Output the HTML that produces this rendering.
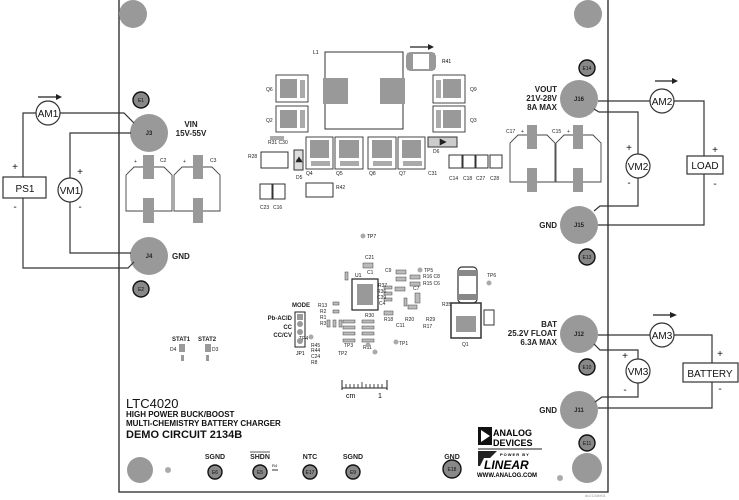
<!DOCTYPE html>
<html><head><meta charset="utf-8"><style>
html,body{margin:0;padding:0;background:#fff;}
svg{display:block;font-family:"Liberation Sans",sans-serif;}
.b{font-weight:bold;}
</style></head><body>
<svg width="739" height="500" viewBox="0 0 739 500" xmlns="http://www.w3.org/2000/svg">
<rect width="739" height="500" fill="#fff"/>
<path d="M119 0 V492 H608 V0" fill="none" stroke="#222" stroke-width="1.3"/>
<circle cx="133" cy="14" r="14" fill="#999"/>
<circle cx="588" cy="14" r="14" fill="#999"/>
<circle cx="140" cy="470" r="13" fill="#999"/>
<circle cx="587" cy="468" r="15" fill="#999"/>
<circle cx="168" cy="470" r="3" fill="#aaa"/>
<circle cx="560" cy="478" r="3" fill="#aaa"/>

<g fill="#999">
<circle cx="149" cy="133" r="19"/><circle cx="149" cy="256" r="19"/>
<circle cx="579" cy="99" r="19"/><circle cx="579" cy="225" r="19"/>
<circle cx="579" cy="334" r="19"/><circle cx="579" cy="410" r="19"/>
</g>
<g font-size="6" class="b" text-anchor="middle" fill="#222">
<text x="149" y="135">J3</text><text x="149" y="258">J4</text>
<text x="579" y="101">J16</text><text x="579" y="227">J15</text>
<text x="579" y="336">J12</text><text x="579" y="412">J11</text>
</g>
<g fill="#888" stroke="#111" stroke-width="1.4">
<circle cx="141" cy="100" r="8"/><circle cx="141" cy="289" r="8"/>
<circle cx="587" cy="68" r="8"/><circle cx="587" cy="257" r="8"/>
<circle cx="587" cy="367" r="8"/><circle cx="587" cy="443" r="8"/>
<circle cx="215" cy="472" r="7"/><circle cx="260" cy="472" r="7"/>
<circle cx="310" cy="472" r="7"/><circle cx="353" cy="472" r="7"/>
<circle cx="452" cy="469" r="9"/>
</g>
<g font-size="5" text-anchor="middle" fill="#111">
<text x="141" y="102">E1</text><text x="141" y="291">E2</text>
<text x="587" y="70">E14</text><text x="587" y="259">E13</text>
<text x="587" y="369">E10</text><text x="587" y="445">E11</text>
<text x="215" y="474">E6</text><text x="260" y="474">E5</text>
<text x="310" y="474">E17</text><text x="353" y="474">E9</text>
<text x="452" y="471">E18</text>
</g>
<g font-size="8" class="b" fill="#222">
<text x="191" y="127" text-anchor="middle">VIN</text>
<text x="191" y="136" text-anchor="middle">15V-55V</text>
<text x="172" y="259">GND</text>
<g text-anchor="end">
<text x="557" y="92">VOUT</text><text x="557" y="101">21V-28V</text><text x="557" y="110">8A MAX</text>
<text x="557" y="228">GND</text>
<text x="557" y="327">BAT</text><text x="557" y="336">25.2V FLOAT</text><text x="557" y="345">6.3A MAX</text>
<text x="557" y="413">GND</text>
</g>
</g>

<g fill="none" stroke="#444" stroke-width="0.9">
<path d="M126 211 V175 L134 167 H164 L172 175 V211 Z"/>
<path d="M174 211 V175 L182 167 H212 L220 175 V211 Z"/>
<path d="M510 182 V143 L518 135 H547 L555 143 V182 Z"/>
<path d="M556 182 V143 L564 135 H593 L601 143 V182 Z"/>
</g>
<g fill="#999">
<rect x="143" y="155" width="11" height="24"/><rect x="143" y="198" width="11" height="25"/>
<rect x="193" y="155" width="10" height="24"/><rect x="193" y="198" width="10" height="25"/>
<rect x="527" y="125" width="10" height="24"/><rect x="527" y="168" width="10" height="24"/>
<rect x="573" y="125" width="10" height="24"/><rect x="573" y="168" width="10" height="24"/>
</g>
<g font-size="5" fill="#222">
<text x="134" y="163">+</text><text x="160" y="162">C2</text>
<text x="183" y="163">+</text><text x="210" y="162">C3</text>
<text x="506" y="133">C17</text><text x="521" y="133">+</text>
<text x="552" y="133">C15</text><text x="567" y="133">+</text>
</g>

<rect x="325" y="52" width="78" height="77" fill="none" stroke="#333" stroke-width="1"/>
<rect x="323" y="78" width="25" height="26" fill="#999"/>
<rect x="380" y="78" width="25" height="26" fill="#999"/>
<text x="313" y="54" font-size="5">L1</text>
<rect x="407" y="53" width="28" height="17" rx="3" fill="none" stroke="#333"/>
<rect x="407" y="53" width="6" height="17" fill="#999"/><rect x="429" y="53" width="6" height="17" fill="#999"/>
<path d="M410 47 H430" stroke="#222" stroke-width="1.3"/><path d="M428 44 L434 47 L428 50 Z" fill="#222"/>
<text x="442" y="63" font-size="5">R41</text>
<g fill="none" stroke="#333" stroke-width="0.9">
<rect x="276" y="75" width="32" height="27"/><rect x="276" y="106" width="32" height="26"/>
<rect x="433" y="75" width="32" height="28"/><rect x="433" y="106" width="32" height="26"/>
<rect x="306" y="137" width="27" height="32"/><rect x="335" y="137" width="28" height="32"/>
<rect x="368" y="137" width="28" height="32"/><rect x="398" y="137" width="27" height="32"/>
</g>
<g fill="#999">
<rect x="280" y="79" width="17" height="19"/><rect x="280" y="110" width="17" height="18"/>
<rect x="443" y="79" width="18" height="19"/><rect x="443" y="110" width="18" height="18"/>
<rect x="310" y="140" width="19" height="18"/><rect x="339" y="140" width="20" height="18"/>
<rect x="372" y="140" width="20" height="18"/><rect x="402" y="140" width="19" height="18"/>
</g>
<g fill="#aaa">
<rect x="300" y="80" width="5" height="18"/><rect x="300" y="110" width="5" height="18"/>
<rect x="436" y="80" width="5" height="18"/><rect x="436" y="110" width="5" height="18"/>
<rect x="311" y="161" width="19" height="5"/><rect x="340" y="161" width="19" height="5"/>
<rect x="373" y="161" width="19" height="5"/><rect x="403" y="161" width="19" height="5"/>
</g>
<g font-size="5" fill="#222">
<text x="266" y="91">Q6</text><text x="266" y="122">Q2</text>
<text x="470" y="91">Q9</text><text x="470" y="122">Q3</text>
<text x="306" y="175">Q4</text><text x="336" y="175">Q5</text><text x="369" y="175">Q8</text><text x="399" y="175">Q7</text>
<text x="248" y="158">R28</text><text x="296" y="179">D5</text><text x="433" y="153">D6</text>
<text x="268" y="144">R31 C30</text><text x="336" y="189">R42</text>
<text x="260" y="209">C23</text><text x="273" y="209">C16</text>
<text x="449" y="180">C14</text><text x="463" y="180">C18</text><text x="476" y="180">C27</text><text x="490" y="180">C28</text>
<text x="428" y="175">C31</text>
</g>
<g fill="none" stroke="#333" stroke-width="1">
<rect x="261" y="152" width="27" height="16"/>
<rect x="306" y="183" width="27" height="14"/>
<rect x="260" y="184" width="12" height="15"/><rect x="273" y="184" width="12" height="15"/>
<rect x="449" y="155" width="13" height="13"/><rect x="463" y="155" width="12" height="13"/>
<rect x="476" y="155" width="12" height="13"/><rect x="490" y="155" width="12" height="13"/>
<rect x="428" y="137" width="29" height="10" fill="#ccc"/>
<rect x="294" y="150" width="9" height="20" fill="#ddd"/>
</g>
<rect x="270" y="136" width="14" height="4" fill="#aaa"/>
<path d="M296 160 h6 M299 157 l-3 5 h6 z M440 139 l6 3 l-6 3 z" fill="#222" stroke="#222" stroke-width="0.6"/>

<circle cx="363" cy="236" r="2.5" fill="#aaa"/><text x="367" y="238" font-size="5">TP7</text>
<rect x="352" y="279" width="26" height="31" fill="none" stroke="#222" stroke-width="1.2"/>
<rect x="357" y="284" width="16" height="21" fill="#999"/>
<text x="355" y="277" font-size="5">U1</text>
<g fill="#bbb" stroke="#444" stroke-width="0.5">
<rect x="363" y="263" width="10" height="5"/><rect x="396" y="270" width="10" height="4"/><rect x="396" y="277" width="10" height="4"/>
<rect x="410" y="275" width="10" height="4"/><rect x="410" y="282" width="10" height="4"/><rect x="395" y="287" width="10" height="4"/>
<rect x="384" y="286" width="8" height="3"/><rect x="384" y="292" width="8" height="3"/><rect x="384" y="298" width="8" height="3"/>
<rect x="384" y="311" width="9" height="4"/><rect x="408" y="305" width="9" height="4"/>
<rect x="343" y="320" width="12" height="3"/><rect x="343" y="326" width="12" height="3"/><rect x="343" y="332" width="12" height="3"/>
<rect x="362" y="320" width="12" height="3"/><rect x="362" y="326" width="12" height="3"/><rect x="362" y="332" width="12" height="3"/>
<rect x="343" y="339" width="12" height="3"/><rect x="362" y="339" width="12" height="3"/>
<rect x="333" y="320" width="3" height="7"/><rect x="327" y="320" width="3" height="7"/><rect x="339" y="320" width="3" height="7"/>
<rect x="333" y="302" width="6" height="3"/><rect x="333" y="310" width="6" height="3"/>
<rect x="345" y="272" width="3" height="8"/><rect x="404" y="298" width="3" height="8"/>
<rect x="415" y="293" width="5" height="10"/>
</g>
<g font-size="5" fill="#222">
<text x="365" y="259">C21</text><text x="367" y="274">C1</text><text x="385" y="272">C9</text>
<text x="378" y="287">R37</text><text x="377" y="293">R36</text><text x="377" y="299">C39</text><text x="379" y="305">C4</text>
<text x="423" y="278">R16 C8</text><text x="423" y="285">R15 C6</text><text x="413" y="290">C7</text>
<text x="365" y="317">R30</text><text x="384" y="321">R18</text><text x="405" y="321">R20</text><text x="426" y="321">R29</text>
<text x="396" y="327">C11</text><text x="423" y="328">R17</text>
<text x="318" y="307">R13</text><text x="320" y="313">R2</text><text x="320" y="319">R1</text><text x="320" y="325">R3</text>
<text x="344" y="347">TP3</text><text x="338" y="355">TP2</text><text x="363" y="349">R11</text>
<text x="299" y="340">TP4</text><text x="399" y="345">TP1</text>
<text x="424" y="272">TP5</text><text x="487" y="277">TP6</text>
<text x="442" y="306">R35</text><text x="462" y="346">Q1</text>
<text x="311" y="347">R45</text><text x="311" y="352">R44</text><text x="311" y="358">C24</text><text x="311" y="364">R8</text>
</g>
<g fill="#aaa">
<circle cx="420" cy="270" r="2.5"/><circle cx="489" cy="283" r="2.5"/><circle cx="311" cy="337" r="2.5"/>
<circle cx="396" cy="342" r="2.5"/><circle cx="368" cy="345" r="2.5"/><circle cx="375" cy="352" r="2.5"/>
</g>
<rect x="458" y="267" width="19" height="36" rx="4" fill="#fff" stroke="#333" stroke-width="1.2"/>
<rect x="458" y="270" width="19" height="6" fill="#888"/><rect x="458" y="294" width="19" height="6" fill="#888"/>
<rect x="451" y="303" width="30" height="35" fill="none" stroke="#333" stroke-width="1.5"/>
<rect x="456" y="316" width="20" height="16" fill="#999"/>
<rect x="484" y="310" width="10" height="15" fill="none" stroke="#333"/>
<rect x="295" y="312" width="10" height="35" fill="none" stroke="#222" stroke-width="1"/>
<rect x="297" y="314" width="6" height="6" fill="#999"/>
<g fill="#999"><circle cx="300" cy="324" r="3"/><circle cx="300" cy="332" r="3"/><circle cx="300" cy="341" r="3"/></g>
<g font-size="6" class="b" text-anchor="end" fill="#222">
<text x="310" y="307">MODE</text><text x="292" y="320">Pb-ACID</text><text x="292" y="329">CC</text><text x="292" y="337">CC/CV</text>
</g>
<text x="296" y="355" font-size="5">JP1</text>
<g font-size="6" class="b" fill="#222"><text x="172" y="341">STAT1</text><text x="198" y="341">STAT2</text></g>
<rect x="179" y="344" width="6" height="8" fill="#999"/><rect x="205" y="344" width="6" height="8" fill="#999"/>
<g font-size="5" fill="#222"><text x="170" y="351">D4</text><text x="212" y="351">D3</text></g>
<rect x="181" y="355" width="3" height="6" fill="#999"/><rect x="206" y="355" width="3" height="6" fill="#999"/>
<path d="M342 380 V390 M387 380 V390 M342 388 H387" stroke="#222" fill="none"/>
<path d="M346 384v4 M350 384v4 M354 384v4 M358 384v4 M362 382v6 M366 384v4 M370 384v4 M374 384v4 M378 384v4 M382 384v4" stroke="#222" stroke-width="0.8"/>
<text x="346" y="398" font-size="7">cm</text><text x="378" y="398" font-size="7">1</text>

<g fill="#111">
<text x="126" y="408" font-size="13">LTC4020</text>
<text x="126" y="417" font-size="8" class="b">HIGH POWER BUCK/BOOST</text>
<text x="126" y="426" font-size="8" class="b">MULTI-CHEMISTRY BATTERY CHARGER</text>
<text x="126" y="438" font-size="11" class="b">DEMO CIRCUIT 2134B</text>
</g>
<g font-size="7" class="b" text-anchor="middle" fill="#222">
<text x="215" y="459">SGND</text><text x="260" y="459">SHDN</text><text x="310" y="459">NTC</text>
<text x="353" y="459">SGND</text><text x="452" y="459">GND</text>
</g>
<path d="M250 452 H270" stroke="#222" stroke-width="0.8"/>
<text x="272" y="467" font-size="4">R4</text><rect x="272" y="469" width="6" height="2" fill="#999"/>
<rect x="478" y="427" width="14" height="18" fill="#111"/>
<path d="M481 430 L490 436 L481 442 Z" fill="#fff"/>
<text x="493" y="436" font-size="9" class="b">ANALOG</text>
<text x="493" y="446" font-size="9" class="b">DEVICES</text>
<path d="M478 449 H542" stroke="#222"/>
<text x="500" y="456" font-size="4" class="b" letter-spacing="1">POWER BY</text>
<path d="M478 451 H497 L490 458 H484 L480 466 H478 Z" fill="#222"/>
<text x="484" y="469" font-size="12" class="b" font-style="italic">LINEAR</text>
<text x="477" y="477" font-size="6" class="b">WWW.ANALOG.COM</text>

<g fill="none" stroke="#333" stroke-width="1.2">
<path d="M23 177 V113 H36 M60 113 H124 L134 123"/>
<path d="M70 178 V133 H131"/>
<path d="M70 202 V253 H131"/>
<path d="M23 198 V268 H128 L134 262"/>
<path d="M598 101 H650 M674 101 H704 V156 M704 174 V225 H598"/>
<path d="M594 109 L599 112 H638 V154 M638 178 V206 H600 L594 211"/>
<path d="M598 335 H650 M674 335 H712 V363 M712 382 V408 H598"/>
<path d="M594 344 L600 350 H638 V359 M638 383 V397 H602 L595 402"/>
</g>
<g fill="#fff" stroke="#333" stroke-width="1.2">
<circle cx="48" cy="113" r="12"/><circle cx="70" cy="190" r="12"/>
<circle cx="662" cy="101" r="12"/><circle cx="638" cy="166" r="12"/>
<circle cx="662" cy="335" r="12"/><circle cx="638" cy="371" r="12"/>
<rect x="3" y="177" width="43" height="21"/><rect x="687" y="156" width="36" height="18"/>
<rect x="683" y="363" width="55" height="19"/>
</g>
<g font-size="10" text-anchor="middle" fill="#111">
<text x="48" y="117">AM1</text><text x="70" y="194">VM1</text>
<text x="662" y="105">AM2</text><text x="638" y="170">VM2</text>
<text x="662" y="339">AM3</text><text x="638" y="375">VM3</text>
<text x="25" y="192">PS1</text><text x="705" y="169">LOAD</text><text x="710" y="377">BATTERY</text>
</g>
<g font-size="10" fill="#111" text-anchor="middle">
<text x="15" y="170">+</text><text x="15" y="210">-</text>
<text x="80" y="175">+</text><text x="80" y="210">-</text>
<text x="629" y="151">+</text><text x="629" y="186">-</text>
<text x="715" y="153">+</text><text x="715" y="187">-</text>
<text x="625" y="359">+</text><text x="625" y="393">-</text>
<text x="720" y="357">+</text><text x="720" y="392">-</text>
</g>
<g stroke="#222" stroke-width="1.3">
<path d="M38 97 H57"/><path d="M655 81 H673"/><path d="M653 315 H671"/>
</g>
<g fill="#222">
<path d="M56 94 L62 97 L56 100 Z"/><path d="M672 78 L678 81 L672 84 Z"/><path d="M670 312 L677 315 L670 318 Z"/>
</g>
<text x="585" y="497" font-size="4" fill="#999">dc2134bf01</text>
</svg>
</body></html>
